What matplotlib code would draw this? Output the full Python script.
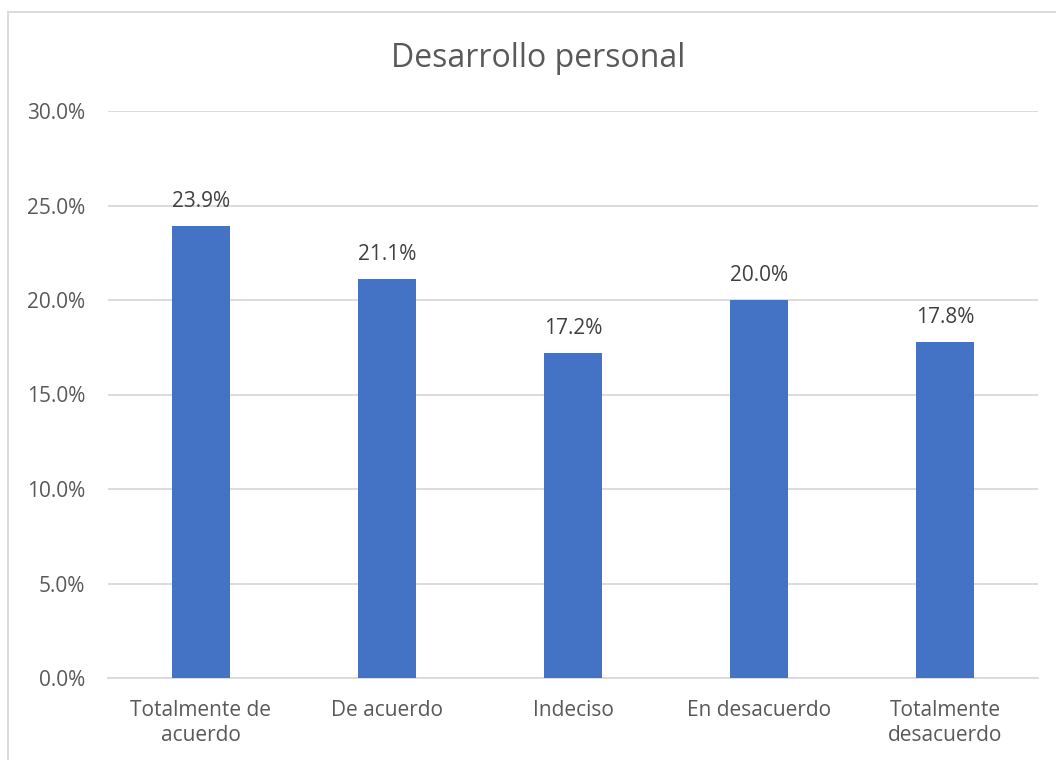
import matplotlib
matplotlib.use("Agg")
import matplotlib.pyplot as plt
from matplotlib.lines import Line2D

categories = ["Totalmente de\nacuerdo", "De acuerdo", "Indeciso", "En desacuerdo", "Totalmente\ndesacuerdo"]
values = [23.9, 21.1, 17.2, 20.0, 17.8]
yticks = [0, 5, 10, 15, 20, 25, 30]
title = "Desarrollo personal"

plt.rcParams['font.family'] = ['Open Sans', 'DejaVu Sans']

fig = plt.figure(figsize=(10.56, 7.6), dpi=100)
ax = fig.add_axes([108/1056, 1-678/760, (1038-108)/1056, (678-111)/760])

FS = 15
x = list(range(len(categories)))
bars = ax.bar(x, values, width=0.31, color="#4472C4", zorder=3)
for xi, v in zip(x, values):
    ax.annotate(f"{v:.1f}%", (xi, v), xytext=(0, 13.7), textcoords="offset points",
                ha="center", va="baseline", fontsize=FS, color="#404040", zorder=4)

ax.set_xlim(-0.5, len(categories) - 0.5)
ax.set_ylim(0, 30)
ax.set_yticks(yticks)
ax.set_yticklabels([f"{t:.1f}%" for t in yticks], fontsize=FS, color="#595959")
ax.set_xticks(x)
ax.set_xticklabels(categories, fontsize=FS, color="#595959", linespacing=1.3)
ax.tick_params(axis="x", length=0, pad=15.5)
ax.tick_params(axis="y", length=0, pad=16.5)
ax.grid(axis="y", color="#d9d9d9", linewidth=1.3, zorder=0)
for s in ["top", "right", "left"]:
    ax.spines[s].set_visible(False)
ax.spines["bottom"].set_color("#d9d9d9")
ax.spines["bottom"].set_linewidth(1.3)

fig.text(538/1056, 1-67/760, title, ha="center", va="baseline", fontsize=23, color="#595959")

# chart border (left and top visible)
fig.add_artist(Line2D([8/1056, 8/1056], [0, 1-12/760], transform=fig.transFigure, color="#d9d9d9", linewidth=1.3))
fig.add_artist(Line2D([8/1056, 1], [1-12/760, 1-12/760], transform=fig.transFigure, color="#d9d9d9", linewidth=1.3))

fig.savefig("out.png", dpi=100)
